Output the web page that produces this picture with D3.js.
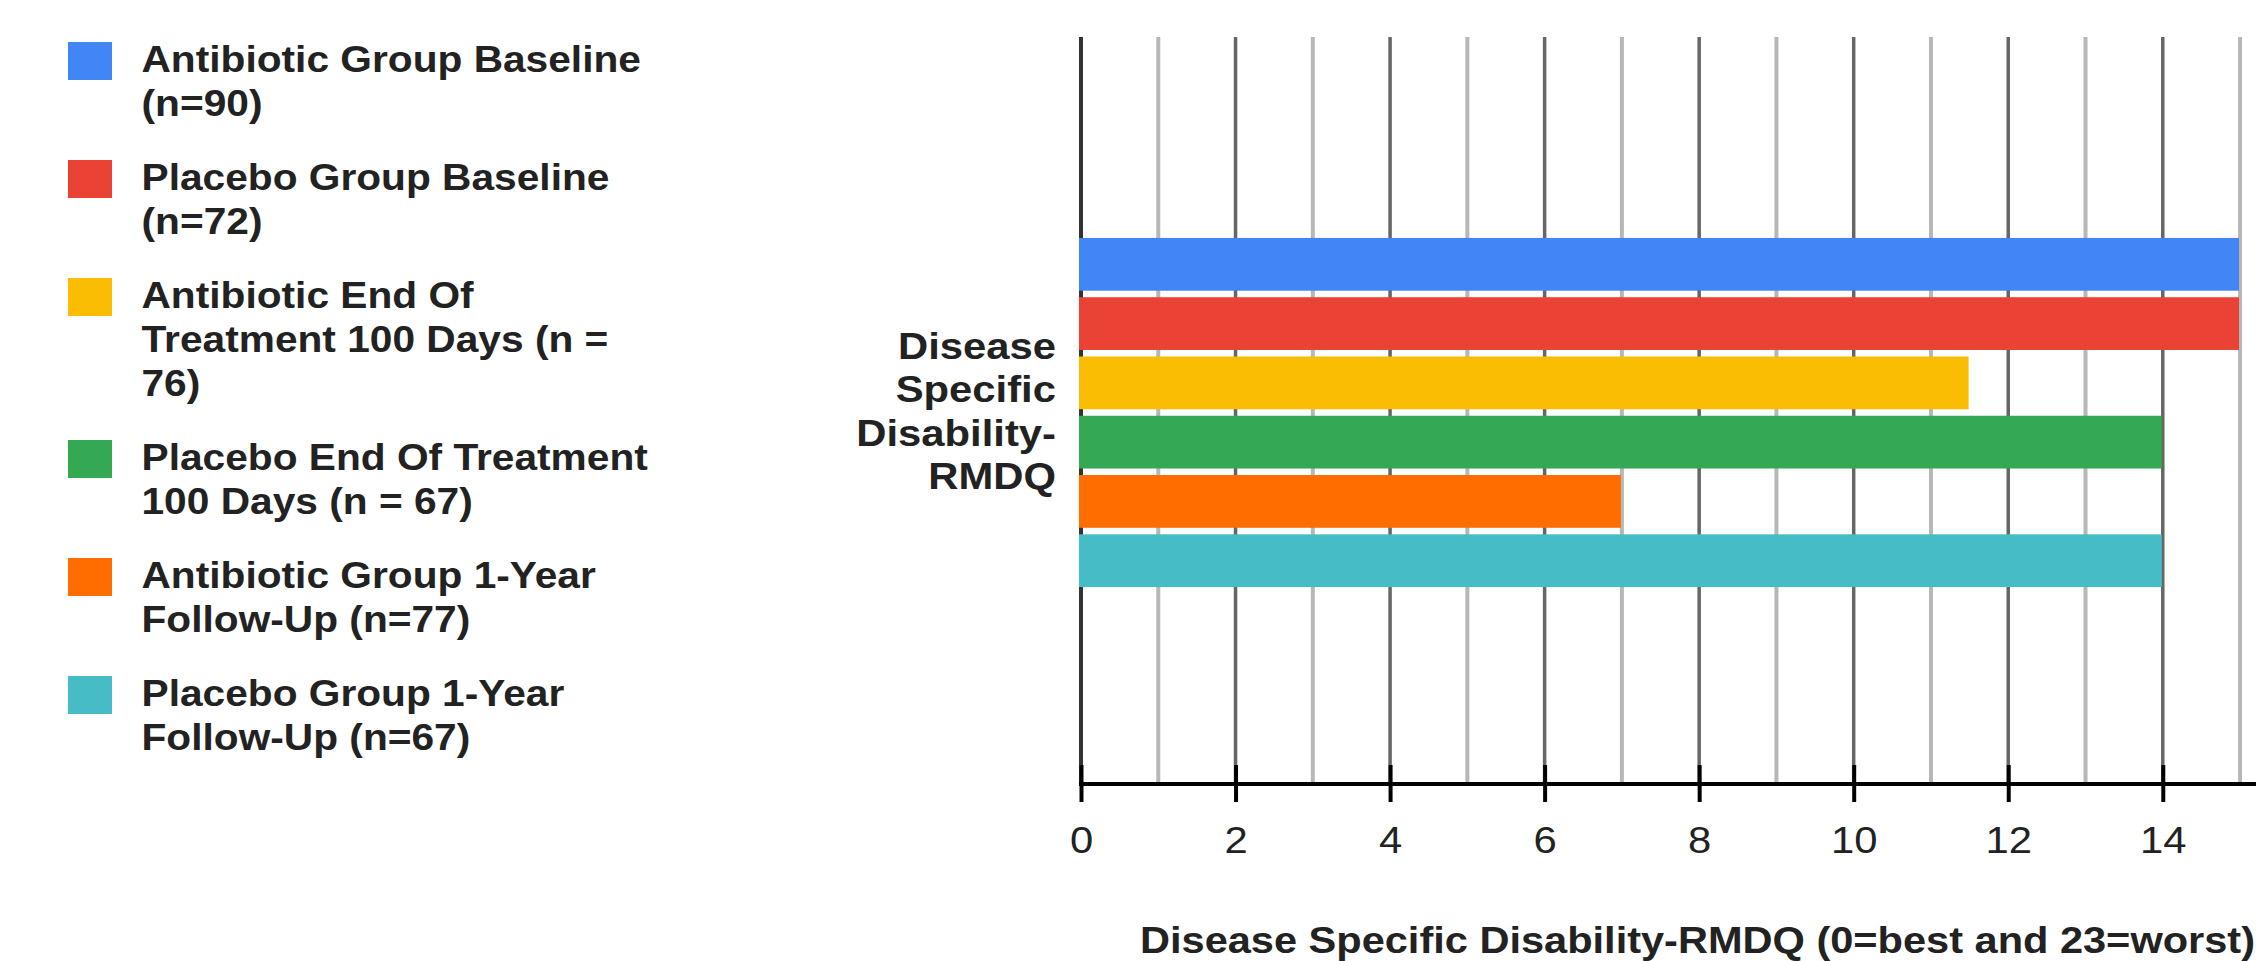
<!DOCTYPE html>
<html>
<head>
<meta charset="utf-8">
<script src="https://cdn.jsdelivr.net/npm/d3@7"></script>
<style>
  html, body { margin: 0; padding: 0; background: #fff; }
  svg { display: block; font-family: "Liberation Sans", Arial, sans-serif; }
</style>
</head>
<body>
<svg id="chart" width="2256" height="961"></svg>
<script>
// ---- Data ----
const categories = ["Disease Specific Disability-RMDQ"];
const categoryLabelLines = ["Disease", "Specific", "Disability-", "RMDQ"];
const seriesNames = [
  "Antibiotic Group Baseline (n=90)",
  "Placebo Group Baseline (n=72)",
  "Antibiotic End Of Treatment 100 Days (n = 76)",
  "Placebo End Of Treatment 100 Days (n = 67)",
  "Antibiotic Group 1-Year Follow-Up (n=77)",
  "Placebo Group 1-Year Follow-Up (n=67)"
];
const seriesValues = [15, 15, 11.5, 14, 7, 14];
const seriesColors = ["#4285F4", "#EA4335", "#FBBC04", "#34A853", "#FF6D01", "#46BDC6"];
const legendLines = [
  ["Antibiotic Group Baseline", "(n=90)"],
  ["Placebo Group Baseline", "(n=72)"],
  ["Antibiotic End Of", "Treatment 100 Days (n =", "76)"],
  ["Placebo End Of Treatment", "100 Days (n = 67)"],
  ["Antibiotic Group 1-Year", "Follow-Up (n=77)"],
  ["Placebo Group 1-Year", "Follow-Up (n=67)"]
];
const xDomain = [0, 16];
const xTickValues = [0, 2, 4, 6, 8, 10, 12, 14];
const xGridValues = d3.range(1, 16);
const xTitle = "Disease Specific Disability-RMDQ (0=best and 23=worst)";

// ---- Layout ----
const W = 2256, H = 961;
const plotLeft = 1081, unit = 77.27;
const plotTop = 37, axisY = 784;
const SX = 1.13; // horizontal stretch of the text in the reference
const svg = d3.select("#chart");
svg.append("rect").attr("width", W).attr("height", H).attr("fill", "#fff");

const x = d3.scaleLinear().domain(xDomain).range([plotLeft, plotLeft + unit * (xDomain[1] - xDomain[0])]);
const yCat = d3.scaleBand().domain(categories).range([40, 785]).paddingOuter(0.567).paddingInner(0);
const ySer = d3.scaleBand().domain(seriesNames).range([0, yCat.bandwidth()]).paddingInner(0.11).paddingOuter(0);

// Gridlines
const grid = svg.append("g");
grid.selectAll("line.g").data(xGridValues).join("line")
  .attr("x1", d => x(d)).attr("x2", d => x(d))
  .attr("y1", plotTop).attr("y2", axisY - 2)
  .attr("stroke", d => d % 2 === 0 ? "#666666" : "#b7b7b7")
  .attr("stroke-width", d => d % 2 === 0 ? 3.5 : 4);
// zero line
grid.append("line")
  .attr("x1", x(0)).attr("x2", x(0))
  .attr("y1", plotTop).attr("y2", axisY - 2)
  .attr("stroke", "#333").attr("stroke-width", 4);

// Bars
const barG = svg.append("g");
categories.forEach(cat => {
  barG.selectAll("rect.bar").data(seriesNames.map((s, i) => ({s, v: seriesValues[i], c: seriesColors[i]})))
    .join("rect").attr("class", "bar")
    .attr("x", x(0) - 2)
    .attr("y", d => yCat(cat) + ySer(d.s))
    .attr("width", d => x(d.v) - x(0) + 1)
    .attr("height", ySer.bandwidth())
    .attr("fill", d => d.c);
});

// X axis
const xAxis = d3.axisBottom(x).tickValues(xTickValues).tickFormat(d3.format("d")).tickSizeOuter(0);
const axG = svg.append("g").attr("transform", `translate(0,${axisY})`).call(xAxis);
axG.select(".domain").remove();
axG.append("line").attr("x1", x(0) - 2).attr("x2", W).attr("y1", 0).attr("y2", 0)
  .attr("stroke", "#000").attr("stroke-width", 4);
axG.selectAll(".tick line").attr("y1", -19).attr("y2", 18).attr("stroke", "#000").attr("stroke-width", 4);
axG.selectAll(".tick text")
  .attr("y", 69).attr("dy", null)
  .attr("transform", `scale(${SX},1)`)
  .attr("font-size", 37).attr("fill", "#222")
  .attr("font-family", "'Liberation Sans', Arial, sans-serif");

// Category label (wrapped, right-aligned)
const catCenter = yCat(categories[0]) + yCat.bandwidth() / 2;
const catLH = 43.5;
const catFirst = catCenter - 54;
svg.append("g").selectAll("text").data(categoryLabelLines).join("text")
  .attr("transform", (d, i) => `translate(1056,${catFirst + i * catLH}) scale(${SX},1)`)
  .attr("text-anchor", "end")
  .attr("font-size", 37).attr("font-weight", "bold").attr("fill", "#222")
  .text(d => d);

// X axis title
svg.append("text")
  .attr("x", 1140).attr("y", 952.5)
  .attr("textLength", 1115).attr("lengthAdjust", "spacingAndGlyphs")
  .attr("font-size", 36).attr("font-weight", "bold").attr("fill", "#222")
  .text(xTitle);

// Legend
const legLH = 44, legGap = 30;
let legTop = 42;
const legG = svg.append("g");
legendLines.forEach((lines, i) => {
  const g = legG.append("g");
  g.append("rect").attr("x", 68).attr("y", legTop).attr("width", 44).attr("height", 38)
    .attr("fill", seriesColors[i]);
  lines.forEach((ln, j) => {
    g.append("text")
      .attr("transform", `translate(141.5,${legTop + 30 + j * legLH}) scale(${SX},1)`)
      .attr("font-size", 36).attr("font-weight", "bold").attr("fill", "#222")
      .text(ln);
  });
  legTop += lines.length * legLH + legGap;
});
</script>
</body>
</html>
